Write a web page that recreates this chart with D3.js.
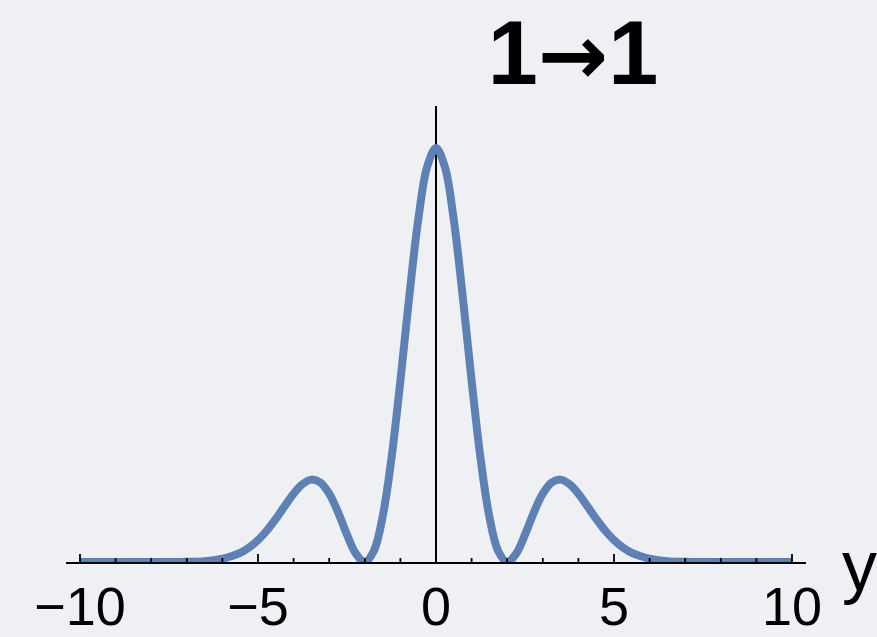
<!DOCTYPE html>
<html>
<head>
<meta charset="utf-8">
<script src="https://cdn.jsdelivr.net/npm/d3@7"></script>
<style>
  html, body { margin: 0; padding: 0; background: #eff0f4; }
  svg { display: block; }
  text { font-family: 'Liberation Sans', Arial, sans-serif; fill: #000; }
</style>
</head>
<body>
<div id="chart"></div>
<script>
var width = 877,
    height = 637

// positions along the axis, right half; mirrored for the left
var xs = [0, 0.25, 0.5, 0.75, 1, 1.25, 1.5, 1.75, 2, 2.25, 2.5, 2.75, 3, 3.25, 3.5,
          3.75, 4, 4.25, 4.5, 4.75, 5, 5.25, 5.5, 5.75, 6, 6.5, 7, 7.5, 8, 9, 10]
// curve height at each position, relative to the central peak
var ys = [1, 0.954, 0.826, 0.642, 0.438, 0.251, 0.109, 0.026, 0, 0.020, 0.066, 0.120, 0.165, 0.192, 0.199,
          0.188, 0.165, 0.135, 0.104, 0.076, 0.053, 0.035, 0.022, 0.014, 0.008, 0.002, 0.0006, 0.0001, 0, 0, 0]

var majorTicks = [-10, -5, 0, 5, 10]
var minorTicks = d3.range(-10, 11, 1)
var titleParts = ['1', '\u2192', '1'],
    axisLabel = 'y'

var points = []
for (var i = xs.length - 1; i > 0; i--) points.push([-xs[i], ys[i]])
for (var j = 0; j < xs.length; j++) points.push([xs[j], ys[j]])

var x = d3.scaleLinear().domain([-10, 10]).range([80, 792])
var y = d3.scaleLinear().domain([0, 1]).range([562, 148])
var axisY = 563

var svg = d3.select('#chart').append('svg')
    .attr('width', width)
    .attr('height', height)

svg.append('rect')
    .attr('width', width)
    .attr('height', height)
    .attr('fill', '#eff0f4')

svg.append('clipPath').attr('id', 'plotclip')
  .append('rect')
    .attr('x', 0).attr('y', 0)
    .attr('width', width).attr('height', 562)

// vertical axis at zero
svg.append('line')
    .attr('x1', x(0)).attr('x2', x(0))
    .attr('y1', 106).attr('y2', axisY)
    .attr('stroke', '#000')
    .attr('stroke-width', 2)

var line = d3.line()
    .x(function(d) { return x(d[0]) })
    .y(function(d) { return y(d[1]) })
    .curve(d3.curveCatmullRom)

svg.append('path')
    .datum(points)
    .attr('clip-path', 'url(#plotclip)')
    .attr('d', line)
    .attr('fill', 'none')
    .attr('stroke', '#5e81b5')
    .attr('stroke-width', 8)
    .attr('stroke-linejoin', 'round')

// horizontal axis
svg.append('line')
    .attr('x1', 66).attr('x2', 806)
    .attr('y1', axisY).attr('y2', axisY)
    .attr('stroke', '#000')
    .attr('stroke-width', 2)

svg.selectAll('.minor').data(minorTicks).enter().append('line')
    .attr('class', 'minor')
    .attr('x1', function(d) { return x(d) })
    .attr('x2', function(d) { return x(d) })
    .attr('y1', axisY)
    .attr('y2', function(d) { return majorTicks.indexOf(d) >= 0 ? axisY - 9 : axisY - 5 })
    .attr('stroke', '#000')
    .attr('stroke-width', 1.8)

svg.selectAll('.tlabel').data(majorTicks).enter().append('text')
    .attr('class', 'tlabel')
    .attr('x', function(d) { return x(d) })
    .attr('y', 625)
    .attr('text-anchor', 'middle')
    .attr('font-size', 54)
    .text(function(d) { return d < 0 ? '\u2212' + Math.abs(d) : d })

svg.append('text')
    .attr('x', 842)
    .attr('y', 590)
    .attr('font-size', 70)
    .text(axisLabel)

var t = svg.append('text')
    .attr('x', 573)
    .attr('y', 84)
    .attr('text-anchor', 'middle')
    .attr('font-size', 90)
    .attr('font-weight', 'bold')
t.append('tspan').text(titleParts[0])
t.append('tspan')
    .style('font-family', "'DejaVu Sans', sans-serif")
    .attr('font-size', 84)
    .text(titleParts[1])
t.append('tspan').text(titleParts[2])
</script>
</body>
</html>
